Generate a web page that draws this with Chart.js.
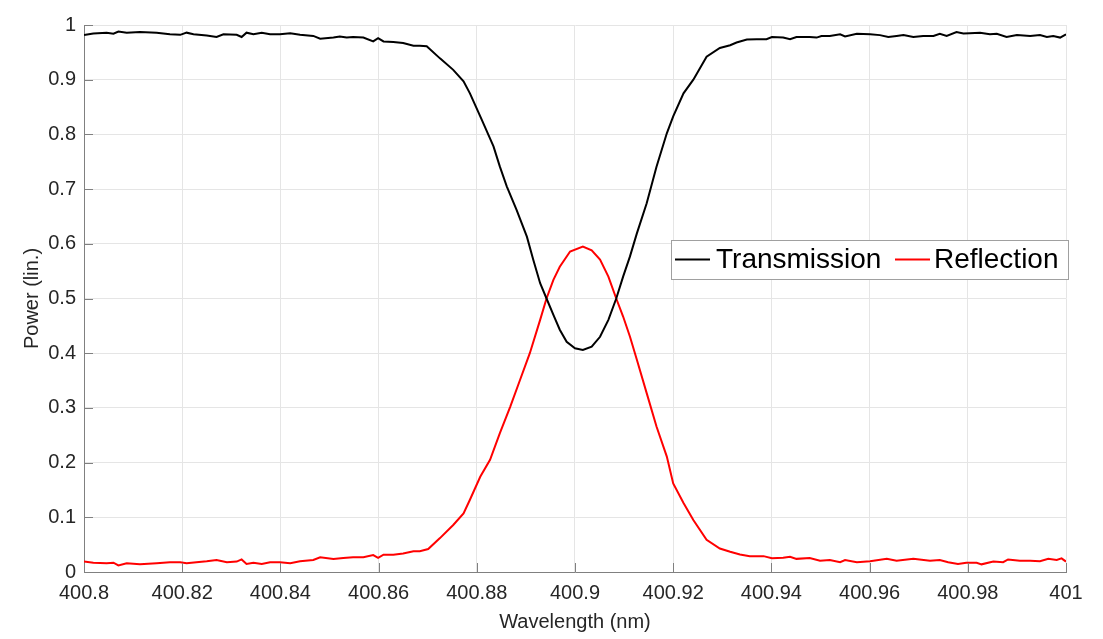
<!DOCTYPE html>
<html>
<head>
<meta charset="utf-8">
<script src="https://cdn.jsdelivr.net/npm/chart.js@4.4.1/dist/chart.umd.min.js"></script>
<style>
  html, body { margin: 0; padding: 0; background: #fff; }
  #wrap { width: 1103px; height: 639px; position: relative; }
</style>
</head>
<body>
<div id="wrap"><canvas id="c"></canvas></div>
<script>
// ---- data ----
const seriesLabels = ["Transmission", "Reflection"];
const xTickValues = [400.8, 400.82, 400.84, 400.86, 400.88, 400.9, 400.92, 400.94, 400.96, 400.98, 401];
const xTickLabels = ["400.8", "400.82", "400.84", "400.86", "400.88", "400.9", "400.92", "400.94", "400.96", "400.98", "401"];
const yTickValues = [0, 0.1, 0.2, 0.3, 0.4, 0.5, 0.6, 0.7, 0.8, 0.9, 1];
const yTickLabels = ["0", "0.1", "0.2", "0.3", "0.4", "0.5", "0.6", "0.7", "0.8", "0.9", "1"];

const transWavelength = [
  400.8000, 400.8019, 400.8046, 400.8060, 400.8070, 400.8087, 400.8114, 400.8148, 400.8175, 400.8196,
  400.8209, 400.8223, 400.8250, 400.8270, 400.8284, 400.8311, 400.8321, 400.8331, 400.8345, 400.8362,
  400.8379, 400.8399, 400.8420, 400.8440, 400.8467, 400.8481, 400.8508, 400.8521, 400.8535, 400.8548,
  400.8569, 400.8589, 400.8599, 400.8610, 400.8630, 400.8650, 400.8671, 400.8684, 400.8698, 400.8725,
  400.8752, 400.8773, 400.8786, 400.8810, 400.8834, 400.8847, 400.8861, 400.8881, 400.8902, 400.8915,
  400.8929, 400.8942, 400.8956, 400.8969, 400.8983, 400.9000, 400.9016, 400.9034, 400.9051, 400.9068,
  400.9084, 400.9098, 400.9112, 400.9126, 400.9146, 400.9166, 400.9187, 400.9200, 400.9221, 400.9241,
  400.9268, 400.9295, 400.9316, 400.9329, 400.9350, 400.9370, 400.9390, 400.9401, 400.9424, 400.9438,
  400.9451, 400.9478, 400.9492, 400.9502, 400.9519, 400.9540, 400.9550, 400.9574, 400.9601, 400.9621,
  400.9638, 400.9655, 400.9669, 400.9689, 400.9709, 400.9730, 400.9743, 400.9757, 400.9777, 400.9791,
  400.9804, 400.9825, 400.9845, 400.9859, 400.9879, 400.9900, 400.9927, 400.9947, 400.9961, 400.9974,
  400.9988, 401.0000
];
const transPower = [
  0.9815, 0.9845, 0.9857, 0.984, 0.988, 0.986, 0.987, 0.986, 0.983, 0.982,
  0.986, 0.983, 0.981, 0.978, 0.983, 0.982, 0.978, 0.986, 0.983, 0.986,
  0.983, 0.983, 0.985, 0.982, 0.980, 0.975, 0.977, 0.979, 0.977, 0.978,
  0.977, 0.970, 0.976, 0.970, 0.969, 0.967, 0.962, 0.962, 0.961, 0.939,
  0.918, 0.897, 0.875, 0.827, 0.778, 0.741, 0.705, 0.662, 0.613, 0.571,
  0.528, 0.500, 0.470, 0.443, 0.421, 0.409, 0.406, 0.412, 0.430, 0.461,
  0.500, 0.540, 0.577, 0.619, 0.674, 0.741, 0.802, 0.833, 0.875, 0.900,
  0.942, 0.958, 0.963, 0.968, 0.9735, 0.974, 0.974, 0.978, 0.977, 0.974,
  0.978, 0.978, 0.977, 0.980, 0.980, 0.983, 0.979, 0.984, 0.983, 0.9815,
  0.978, 0.980, 0.9815, 0.978, 0.980, 0.980, 0.984, 0.980, 0.987, 0.9845,
  0.985, 0.986, 0.983, 0.984, 0.978, 0.9815, 0.980, 0.9815, 0.978, 0.980,
  0.977, 0.983
];

const reflWavelength = [
  400.8000, 400.8019, 400.8046, 400.8060, 400.8070, 400.8087, 400.8114, 400.8148, 400.8175, 400.8196,
  400.8209, 400.8229, 400.8250, 400.8270, 400.8291, 400.8311, 400.8321, 400.8331, 400.8345, 400.8362,
  400.8379, 400.8399, 400.8420, 400.8440, 400.8467, 400.8481, 400.8508, 400.8528, 400.8548, 400.8569,
  400.8589, 400.8599, 400.8610, 400.8630, 400.8650, 400.8671, 400.8684, 400.8701, 400.8725, 400.8752,
  400.8773, 400.8786, 400.8807, 400.8827, 400.8847, 400.8868, 400.8888, 400.8908, 400.8929, 400.8942,
  400.8956, 400.8969, 400.8990, 400.9016, 400.9034, 400.9051, 400.9068, 400.9084, 400.9098, 400.9112,
  400.9126, 400.9146, 400.9166, 400.9187, 400.9200, 400.9221, 400.9241, 400.9268, 400.9295, 400.9316,
  400.9336, 400.9356, 400.9384, 400.9401, 400.9424, 400.9438, 400.9451, 400.9478, 400.9499, 400.9519,
  400.9540, 400.9550, 400.9574, 400.9601, 400.9635, 400.9655, 400.9689, 400.9723, 400.9743, 400.9760,
  400.9780, 400.9797, 400.9818, 400.9828, 400.9852, 400.9872, 400.9882, 400.9906, 400.9927, 400.9947,
  400.9964, 400.9981, 400.9991, 401.0000
];
const reflPower = [
  0.019, 0.017, 0.016, 0.017, 0.012, 0.016, 0.014, 0.016, 0.018, 0.018,
  0.016, 0.018, 0.0195, 0.022, 0.018, 0.019, 0.023, 0.0146, 0.017, 0.0146,
  0.018, 0.018, 0.016, 0.0195, 0.022, 0.027, 0.024, 0.0256, 0.027, 0.027,
  0.031, 0.026, 0.0317, 0.0317, 0.034, 0.038, 0.038, 0.042, 0.062, 0.086,
  0.107, 0.132, 0.174, 0.205, 0.254, 0.302, 0.351, 0.400, 0.461, 0.500,
  0.534, 0.558, 0.586, 0.595, 0.588, 0.571, 0.540, 0.500, 0.467, 0.430,
  0.388, 0.327, 0.266, 0.211, 0.162, 0.126, 0.095, 0.059, 0.043, 0.037,
  0.032, 0.029, 0.029, 0.025, 0.026, 0.028, 0.024, 0.0256, 0.0207, 0.022,
  0.018, 0.022, 0.018, 0.0195, 0.024, 0.0207, 0.024, 0.0207, 0.022, 0.018,
  0.0146, 0.017, 0.017, 0.014, 0.019, 0.018, 0.023, 0.0207, 0.0207, 0.0195,
  0.024, 0.022, 0.025, 0.019
];

// ---- helpers ----
function toPoints(xs, ys) { return xs.map((x, i) => ({ x: x, y: ys[i] })); }

const FONT = "'Liberation Sans', Arial, Helvetica, sans-serif";
const AXIS_COLOR = '#808080';
const GRID_COLOR = '#e5e5e5';

// inward ticks (MATLAB style) drawn from the library's scales
const inwardTicks = {
  id: 'inwardTicks',
  afterDatasetsDraw(chart) {
    const { ctx, chartArea: a, scales } = chart;
    ctx.save();
    ctx.strokeStyle = AXIS_COLOR;
    ctx.lineWidth = 1;
    ctx.beginPath();
    xTickValues.forEach(v => {
      const px = Math.round(scales.x.getPixelForValue(v)) + 0.5;
      ctx.moveTo(px, a.bottom);
      ctx.lineTo(px, a.bottom - 9);
    });
    yTickValues.forEach(v => {
      const py = Math.round(scales.y.getPixelForValue(v)) + 0.5;
      ctx.moveTo(a.left, py);
      ctx.lineTo(a.left + 9, py);
    });
    ctx.stroke();
    ctx.restore();
  }
};

// legend box inside plot
const boxLegend = {
  id: 'boxLegend',
  afterDraw(chart) {
    const { ctx } = chart;
    const x0 = 671, y0 = 240, w = 397, h = 39;
    ctx.save();
    ctx.fillStyle = '#ffffff';
    ctx.fillRect(x0, y0, w, h);
    ctx.strokeStyle = '#a0a0a0';
    ctx.lineWidth = 1;
    ctx.strokeRect(x0 + 0.5, y0 + 0.5, w, h);
    ctx.font = '28px ' + FONT;
    ctx.textBaseline = 'middle';
    ctx.fillStyle = '#000';
    const items = [
      { lx: 675, tx: 716, ds: chart.data.datasets[0] },
      { lx: 895, tx: 934, ds: chart.data.datasets[1] }
    ];
    const cy = y0 + h / 2;
    items.forEach(it => {
      ctx.strokeStyle = it.ds.borderColor;
      ctx.lineWidth = 2;
      ctx.beginPath();
      ctx.moveTo(it.lx, cy);
      ctx.lineTo(it.lx + 35, cy);
      ctx.stroke();
      ctx.fillText(it.ds.label, it.tx, cy + 1);
    });
    ctx.restore();
  }
};

new Chart(document.getElementById('c'), {
  type: 'line',
  data: {
    datasets: [
      { label: seriesLabels[0], data: toPoints(transWavelength, transPower), borderColor: '#000000', borderWidth: 2, pointRadius: 0, tension: 0, fill: false },
      { label: seriesLabels[1], data: toPoints(reflWavelength, reflPower), borderColor: '#ff0000', borderWidth: 2, pointRadius: 0, tension: 0, fill: false }
    ]
  },
  options: {
    responsive: true,
    maintainAspectRatio: false,
    animation: false,
    events: [],
    layout: { padding: { top: 25, right: 37, left: 0, bottom: 0 } },
    plugins: { legend: { display: false }, tooltip: { enabled: false } },
    scales: {
      x: {
        type: 'linear',
        min: 400.8, max: 401,
        afterBuildTicks(scale) { scale.ticks = xTickValues.map(v => ({ value: v })); },
        afterFit(scale) { scale.height = 67; },
        border: { display: true, color: AXIS_COLOR, width: 1 },
        grid: { color: GRID_COLOR, drawTicks: false, lineWidth: 1 },
        ticks: {
          padding: 9,
          color: '#262626',
          font: { family: FONT, size: 20 },
          maxRotation: 0, autoSkip: false,
          callback(v) { const i = xTickValues.findIndex(t => Math.abs(t - v) < 1e-9); return i >= 0 ? xTickLabels[i] : ''; }
        },
        title: { display: true, text: 'Wavelength (nm)', color: '#262626', font: { family: FONT, size: 20 }, padding: { top: 0, bottom: 5 } }
      },
      y: {
        type: 'linear',
        min: 0, max: 1,
        afterBuildTicks(scale) { scale.ticks = yTickValues.map(v => ({ value: v })); },
        afterFit(scale) { scale.width = 84; },
        border: { display: true, color: AXIS_COLOR, width: 1 },
        grid: { color: GRID_COLOR, drawTicks: false, lineWidth: 1 },
        ticks: {
          padding: 8,
          color: '#262626',
          font: { family: FONT, size: 20 },
          autoSkip: false,
          callback(v) { const i = yTickValues.findIndex(t => Math.abs(t - v) < 1e-9); return i >= 0 ? yTickLabels[i] : ''; }
        },
        title: { display: true, text: 'Power (lin.)', color: '#262626', font: { family: FONT, size: 20 }, padding: { top: 20, bottom: 0 } }
      }
    }
  },
  plugins: [inwardTicks, boxLegend]
});
</script>
</body>
</html>
